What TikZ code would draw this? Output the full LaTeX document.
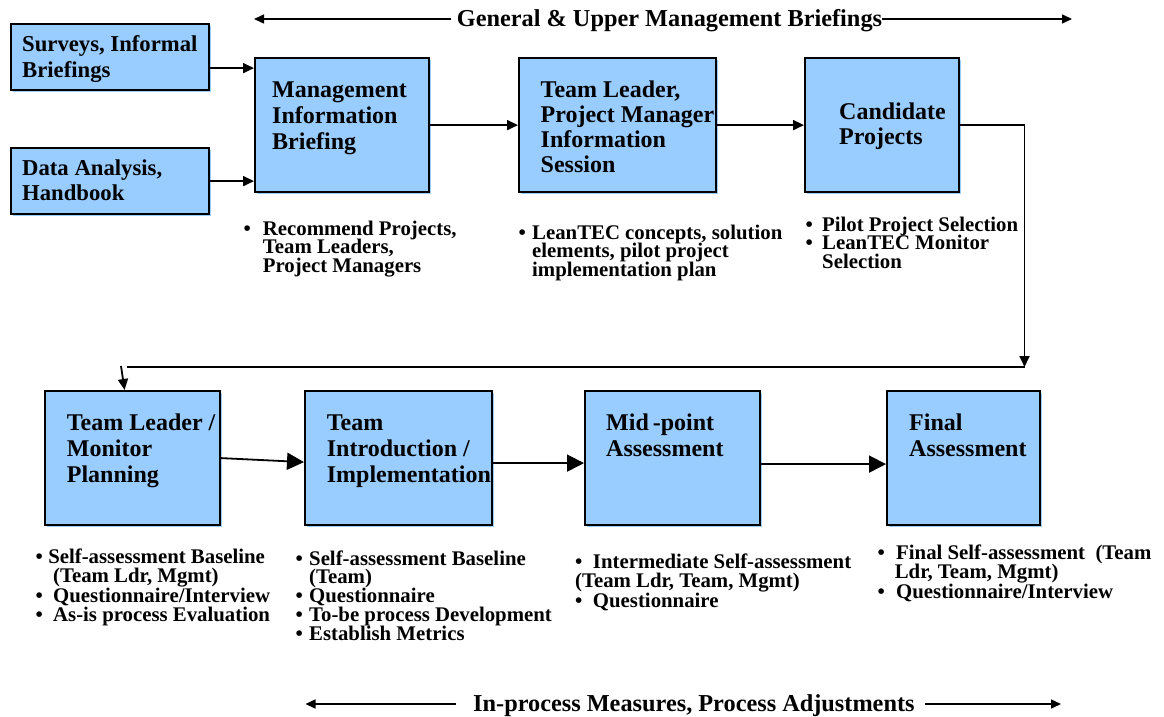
\documentclass[tikz,border=0pt]{standalone}
\usepackage{fontspec}
\setmainfont{Liberation Serif}
\usetikzlibrary{arrows.meta,shadows}
\definecolor{boxblue}{HTML}{99CCFF}
\newcommand{\bul}[1]{\makebox[#1][l]{\textbullet}}
\tikzset{
  box/.style={draw=black, line width=2.2pt, fill=boxblue, rectangle, anchor=north west, inner sep=0pt,
    drop shadow={shadow xshift=2pt, shadow yshift=-2pt, fill=boxblue, opacity=1}},
  btxt/.style={anchor=base west, align=left, inner sep=0pt, font=\fontsize{24}{26}\selectfont\bfseries},
  stxt/.style={anchor=base west, align=left, inner sep=0pt, font=\fontsize{22.7}{25.5}\selectfont\bfseries},
  ltxt/.style={anchor=base west, align=left, inner sep=0pt, font=\fontsize{20.8}{18.9}\selectfont\bfseries},
  hdr/.style={anchor=west, inner sep=0pt, text height=18pt, font=\fontsize{24.3}{26}\selectfont\bfseries},
  conn/.style={line width=1.8pt, -{Triangle[length=11pt,width=10pt]}},
  bigconn/.style={line width=1.8pt, -{Triangle[length=17pt,width=17pt]}},
  lbl/.style={line width=1.5pt, -{Triangle[length=10pt,width=9pt]}},
  plain/.style={line width=1.8pt}
}
\begin{document}
\begin{tikzpicture}[x=1pt,y=-1pt]
\useasboundingbox (0,0) rectangle (1164,717);
% top row boxes
\node[box, minimum width=198pt, minimum height=66pt] (sv) at (10,23) {};
\node[box, minimum width=198pt, minimum height=66pt] (da) at (10,147) {};
\node[box, minimum width=174pt, minimum height=134pt] (mib) at (254,57) {};
\node[box, minimum width=197pt, minimum height=134pt] (tlp) at (518,57) {};
\node[box, minimum width=154pt, minimum height=134pt] (cand) at (804,57) {};
% bottom row boxes
\node[box, minimum width=175pt, minimum height=134pt] (tlm) at (44,390) {};
\node[box, minimum width=187pt, minimum height=134pt] (tii) at (304,390) {};
\node[box, minimum width=175pt, minimum height=134pt] (mpa) at (584,390) {};
\node[box, minimum width=153pt, minimum height=134pt] (fa) at (886,390) {};
% box texts (base anchor = baseline of last line)
\node[stxt] (svt) at (22,77.5) {Surveys, Informal\\Briefings};
\node[stxt] (dat) at (22,200.5) {Data Analysis,\\Handbook};
\node[btxt] (mibt) at (272,149) {Management\\Information\\Briefing};
\node[btxt, font=\fontsize{24}{25.3}\selectfont\bfseries] (tlpt) at (540.5,172.9) {Team Leader,\\Project Manager\\Information\\Session};
\node[btxt, font=\fontsize{24}{25}\selectfont\bfseries] (candt) at (839,144) {Candidate\\Projects};
\node[btxt] (tlmt) at (66.7,482) {Team Leader /\\Monitor\\Planning};
\node[btxt] (tiit) at (326.7,482) {Team\\Introduction /\\Implementation};
\node[btxt] (mpat) at (606,456) {Mid\,-point\\Assessment};
\node[btxt] (fat) at (909,456) {Final\\Assessment};
% bullet texts
\node[ltxt] (mibl) at (243.4,272.8) {\bul{19.3pt}Recommend Projects,\\\hspace*{19.3pt}Team Leaders,\\\hspace*{19.3pt}Project Managers};
\node[ltxt] (tlpl) at (518.4,276.8) {\bul{13.6pt}LeanTEC concepts, solution\\\hspace*{13.6pt}elements, pilot project\\\hspace*{13.6pt}implementation plan};
\node[ltxt] (candl) at (805.4,268.8) {\bul{16.6pt}Pilot Project Selection\\\bul{16.6pt}LeanTEC Monitor\\\hspace*{16.6pt}Selection};
\node[ltxt] (tlml) at (35.3,621.7) {\bul{12.8pt}Self-assessment Baseline\\\hspace*{17.7pt}(Team Ldr, Mgmt)\\\bul{17.7pt}Questionnaire/Interview\\\bul{17.7pt}As-is process Evaluation};
\node[ltxt] (tiil) at (295.4,640.6) {\bul{13.6pt}Self-assessment Baseline\\\hspace*{13.6pt}(Team)\\\bul{13.6pt}Questionnaire\\\bul{13.6pt}To-be process Development\\\bul{13.6pt}Establish Metrics};
\node[ltxt] (mpal) at (574.9,607.8) {\bul{17.9pt}Intermediate Self-assessment\\(Team Ldr, Team, Mgmt)\\\bul{17.9pt}Questionnaire};
\node[ltxt] (fal) at (877.4,598.8) {\bul{18.6pt}Final Self-assessment~ (Team\\\hspace*{17.2pt}Ldr, Team, Mgmt)\\\bul{18.6pt}Questionnaire/Interview};
% header / footer labels
\node[hdr, text depth=2pt] (gen) at (456.7,19) {General \& Upper Management Briefings};
\coordinate (gl) at (254,19);
\coordinate (gr) at (1072,19);
\draw[lbl] ([xshift=-6pt]gen.west) -- (gl);
\draw[lbl] (gen.east) -- (gr);
\node[hdr, text depth=4pt] (inp) at (473,704) {In-process Measures, Process Adjustments};
\coordinate (bl) at (305.5,704);
\coordinate (br) at (1061,704);
\draw[lbl] ([xshift=-17pt]inp.west) -- (bl);
\draw[lbl] ([xshift=10pt]inp.east) -- (br);
% connectors top row
\coordinate (a1) at ([yshift=-11pt]sv.east);
\draw[conn] (a1) -- (a1 -| mib.west);
\draw[conn] (da.east) -- (da.east -| mib.west);
\draw[conn] (mib.east) -- (tlp.west);
\draw[conn] (tlp.east) -- (cand.west);
\coordinate (c1) at (1024.5,367);
\draw[conn] (cand.east) -| (c1);
\coordinate (c2) at (127,367);
\draw[plain] (c1) -- (c2);
\coordinate (c3) at (121,366);
\draw[conn] (c3) -- ([xshift=-8pt]tlm.north);
% connectors bottom row
\draw[bigconn] (tlm.east) -- ([yshift=-4pt]tii.west);
\draw[bigconn] ([yshift=-5pt]tii.east) -- ([yshift=-5pt]mpa.west);
\draw[bigconn] ([yshift=-6pt]mpa.east) -- ([yshift=-6pt]fa.west);
\end{tikzpicture}
\end{document}
